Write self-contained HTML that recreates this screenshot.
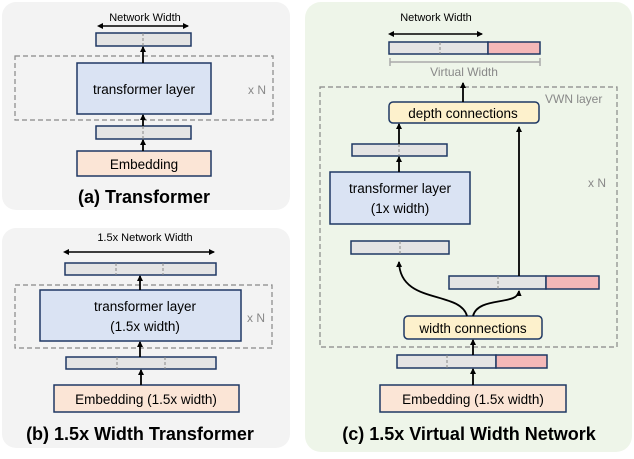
<!DOCTYPE html>
<html><head><meta charset="utf-8"><style>
html,body{margin:0;padding:0;background:#fff}
svg{display:block}
text{font-family:"Liberation Sans",sans-serif}
</style></head><body>
<svg width="634" height="459" viewBox="0 0 634 459" xmlns="http://www.w3.org/2000/svg">
<defs>
<marker id="ah" markerWidth="6" markerHeight="6" refX="5" refY="3" orient="auto" markerUnits="userSpaceOnUse"><path d="M0,0 L6,3 L0,6 z" fill="#000"/></marker>
<marker id="ahs" markerWidth="6" markerHeight="6" refX="1" refY="3" orient="auto-start-reverse" markerUnits="userSpaceOnUse"><path d="M0,0 L6,3 L0,6 z" fill="#000"/></marker>
</defs>
<rect x="2" y="2" width="288" height="208" rx="14" fill="#f3f3f3"/>
<rect x="2" y="228" width="288" height="220" rx="14" fill="#f3f3f3"/>
<rect x="305" y="2" width="327" height="450" rx="16" fill="#eef5e9"/>

<g stroke="#1f3864" stroke-width="1.5">
<rect x="96" y="33" width="95" height="13" fill="#e4e4e4"/>
<rect x="77" y="63" width="134" height="51" fill="#dae3f3"/>
<rect x="96" y="126" width="95" height="13" fill="#e4e4e4"/>
<rect x="77" y="151" width="134" height="25" fill="#fbe5d6"/>
<rect x="65" y="263" width="151" height="12" fill="#e4e4e4"/>
<rect x="40" y="290" width="201" height="51" fill="#dae3f3"/>
<rect x="66" y="357" width="150" height="12" fill="#e4e4e4"/>
<rect x="54" y="385" width="185" height="27" fill="#fbe5d6"/>
<rect x="389" y="42" width="99" height="12" fill="#e4e4e4"/>
<rect x="488" y="42" width="52" height="12" fill="#f4b8b8"/>
<rect x="389" y="102" width="150" height="21" rx="4" fill="#fdf1cc"/>
<rect x="352" y="144" width="95" height="12" fill="#e4e4e4"/>
<rect x="330" y="172" width="140" height="52" fill="#dae3f3"/>
<rect x="351" y="241" width="98" height="13" fill="#e4e4e4"/>
<rect x="449" y="276" width="97" height="13" fill="#e4e4e4"/>
<rect x="546" y="276" width="53" height="13" fill="#f4b8b8"/>
<rect x="404" y="316" width="138" height="23" rx="4" fill="#fdf1cc"/>
<rect x="397" y="355" width="99" height="13" fill="#e4e4e4"/>
<rect x="496" y="355" width="51" height="13" fill="#f4b8b8"/>
<rect x="380" y="385" width="186" height="27" fill="#fbe5d6"/>
</g>

<g fill="none" stroke="#888" stroke-width="1.2" stroke-dasharray="5,3">
<rect x="15" y="56" width="258" height="64"/>
<rect x="15" y="285" width="257" height="63"/>
<rect x="320" y="87" width="297" height="260"/>
</g>
<g stroke="#888" stroke-width="1" stroke-dasharray="3,2">
<line x1="143" y1="33" x2="143" y2="46"/>
<line x1="143" y1="126" x2="143" y2="139"/>
<line x1="116" y1="263" x2="116" y2="275"/><line x1="163" y1="263" x2="163" y2="275"/>
<line x1="117" y1="357" x2="117" y2="369"/><line x1="165" y1="357" x2="165" y2="369"/>
<line x1="440" y1="42" x2="440" y2="54"/>
<line x1="399" y1="144" x2="399" y2="156"/>
<line x1="400" y1="241" x2="400" y2="254"/>
<line x1="498" y1="276" x2="498" y2="289"/>
<line x1="447" y1="355" x2="447" y2="368"/>
</g>

<g stroke="#000" stroke-width="1.8" fill="none" marker-end="url(#ah)">
<line x1="143" y1="63" x2="143" y2="47"/>
<line x1="143" y1="126" x2="143" y2="115"/>
<line x1="143" y1="151" x2="143" y2="140"/>
<line x1="140" y1="290" x2="140" y2="276"/>
<line x1="140" y1="357" x2="140" y2="342"/>
<line x1="141" y1="385" x2="141" y2="370"/>
<line x1="463" y1="102" x2="463" y2="83"/>
<line x1="399" y1="144" x2="399" y2="124"/>
<line x1="399" y1="172" x2="399" y2="157"/>
<line x1="519" y1="276" x2="519" y2="127"/>
<line x1="473" y1="355" x2="473" y2="340"/>
<line x1="473" y1="385" x2="473" y2="369"/>
<path d="M467,316 C460,290 400,305 399,262"/>
<path d="M473,316 C478,296 518,306 519,291"/>
</g>
<g stroke="#000" stroke-width="1.5" marker-end="url(#ah)" marker-start="url(#ahs)">
<line x1="102" y1="26" x2="188" y2="26"/>
<line x1="68" y1="252" x2="214" y2="252"/>
<line x1="393" y1="34" x2="482" y2="34"/>
</g>
<g stroke="#aaa" stroke-width="1.5">
<line x1="390" y1="62" x2="540" y2="62"/>
<line x1="390" y1="58" x2="390" y2="66"/><line x1="540" y1="58" x2="540" y2="66"/>
</g>

<g font-size="11" fill="#000" text-anchor="middle">
<text x="145" y="21">Network Width</text>
<text x="145" y="241">1.5x Network Width</text>
<text x="436" y="21">Network Width</text>
</g>
<g font-size="13.5" fill="#000" text-anchor="middle">
<text x="144" y="94">transformer layer</text>
<text x="144" y="169">Embedding</text>
<text x="145" y="311">transformer layer</text>
<text x="145" y="331">(1.5x width)</text>
<text x="146" y="404">Embedding (1.5x width)</text>
<text x="463" y="118">depth connections</text>
<text x="400" y="193">transformer layer</text>
<text x="400" y="213">(1x width)</text>
<text x="473" y="333">width connections</text>
<text x="473" y="404">Embedding (1.5x width)</text>
</g>
<g font-size="12" fill="#888">
<text x="248" y="94">x N</text>
<text x="247" y="322">x N</text>
<text x="588" y="187">x N</text>
<text x="545" y="103">VWN layer</text>
<text x="464" y="76" text-anchor="middle">Virtual Width</text>
</g>
<g font-size="18" font-weight="bold" fill="#000" text-anchor="middle">
<text x="144" y="203">(a) Transformer</text>
<text x="140" y="440">(b) 1.5x Width Transformer</text>
<text x="469" y="440">(c) 1.5x Virtual Width Network</text>
</g>
</svg>
</body></html>
